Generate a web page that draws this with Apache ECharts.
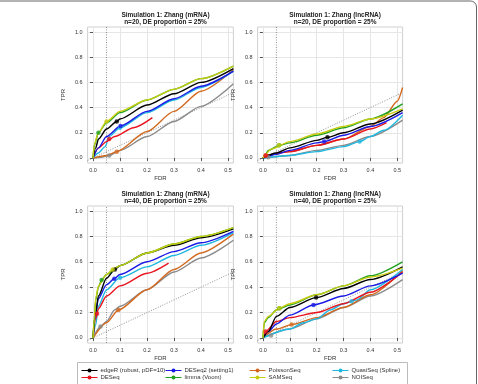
<!DOCTYPE html>
<html>
<head>
<meta charset="utf-8">
<script src="https://cdn.jsdelivr.net/npm/echarts@6/dist/echarts.min.js"></script>
<style>
  html, body { margin: 0; padding: 0; background: #fff; }
  #chart { width: 478px; height: 384px; }
</style>
</head>
<body>
<div id="chart"></div>
<script>
// methods, in legend order (row 1 then row 2)
const methods = ['edgeR', 'DESeq2', 'PoissonSeq', 'QuasiSeq', 'DESeq', 'limma', 'SAMSeq', 'NOISeq']
const methodLabels = ['edgeR (robust, pDF=10)', 'DESeq2 (setting1)', 'PoissonSeq', 'QuasiSeq (Spline)',
  'DESeq', 'limma (Voom)', 'SAMSeq', 'NOISeq']
const methodColors = ['#000000', '#1a1ae6', '#d2691e', '#20b8e0', '#e8141e', '#22a022', '#c8cc10', '#8a8a8a']
const drawOrder = ['NOISeq', 'PoissonSeq', 'QuasiSeq', 'DESeq', 'DESeq2', 'edgeR', 'limma', 'SAMSeq']

const panelTitles = [
  'Simulation 1: Zhang (mRNA)\nn=20, DE proportion = 25%',
  'Simulation 1: Zhang (lncRNA)\nn=20, DE proportion = 25%',
  'Simulation 1: Zhang (mRNA)\nn=40, DE proportion = 25%',
  'Simulation 1: Zhang (lncRNA)\nn=40, DE proportion = 25%'
]
const fdrTicks = [0, 0.1, 0.2, 0.3, 0.4, 0.5]
const tprTicks = [0, 0.2, 0.4, 0.6, 0.8, 1.0]
const fdrCut = 0.05

// curves: [FDR, TPR]
const mrna20 = {
  edgeR: [[0, 0], [0.01, 0.08], [0.02, 0.15], [0.05, 0.23], [0.088, 0.29], [0.1, 0.31], [0.2, 0.42], [0.3, 0.51], [0.4, 0.6], [0.52, 0.71]],
  DESeq2: [[0, 0], [0.02, 0.08], [0.05, 0.17], [0.102, 0.254], [0.2, 0.37], [0.3, 0.47], [0.4, 0.57], [0.52, 0.69]],
  PoissonSeq: [[0, 0], [0.05, 0.02], [0.088, 0.05], [0.2, 0.21], [0.3, 0.37], [0.4, 0.53], [0.52, 0.7]],
  QuasiSeq: [[0, 0], [0.02, 0.04], [0.045, 0.09], [0.06, 0.17], [0.1, 0.24], [0.2, 0.36], [0.3, 0.46], [0.4, 0.56], [0.52, 0.69]],
  DESeq: [[0, 0], [0.02, 0.08], [0.05, 0.13], [0.08, 0.17], [0.15, 0.24], [0.22, 0.32]],
  limma: [[0, 0], [0.005, 0.1], [0.02, 0.2], [0.05, 0.28], [0.1, 0.36], [0.2, 0.46], [0.3, 0.545], [0.4, 0.63], [0.52, 0.73]],
  SAMSeq: [[0, 0], [0.005, 0.11], [0.02, 0.2], [0.05, 0.29], [0.1, 0.37], [0.2, 0.46], [0.3, 0.545], [0.4, 0.63], [0.52, 0.73]],
  NOISeq: [[0, 0], [0.03, 0.005], [0.06, 0.02], [0.1, 0.06], [0.2, 0.17], [0.3, 0.29], [0.4, 0.41], [0.52, 0.59]]
}
const mrna20Marks = {
  edgeR: [0.088, 0.29], DESeq2: [0.102, 0.254], PoissonSeq: [0.088, 0.05], QuasiSeq: [0.1, 0.24],
  DESeq: [0.06, 0.15], limma: [0.02, 0.2], SAMSeq: [0.05, 0.29], NOISeq: [0.06, 0.02]
}

const lnc20 = {
  edgeR: [[0, 0], [0.05, 0.04], [0.1, 0.08], [0.2, 0.14], [0.24, 0.164], [0.3, 0.2], [0.4, 0.27], [0.52, 0.38]],
  DESeq2: [[0, 0], [0.05, 0.03], [0.1, 0.06], [0.2, 0.12], [0.228, 0.13], [0.3, 0.18], [0.4, 0.25], [0.52, 0.36]],
  PoissonSeq: [[0, 0], [0.01, 0.02], [0.1, 0.05], [0.2, 0.1], [0.3, 0.15], [0.4, 0.25], [0.45, 0.32], [0.5, 0.45], [0.52, 0.56]],
  QuasiSeq: [[0, 0], [0.1, 0.02], [0.2, 0.05], [0.3, 0.09], [0.36, 0.13], [0.4, 0.17], [0.45, 0.22], [0.52, 0.34]],
  DESeq: [[0, 0], [0.01, 0.02], [0.1, 0.05], [0.2, 0.1], [0.3, 0.15], [0.4, 0.23], [0.46, 0.28]],
  limma: [[0, 0], [0.01, 0.03], [0.02, 0.06], [0.06, 0.1], [0.1, 0.12], [0.2, 0.18], [0.3, 0.24], [0.4, 0.31], [0.52, 0.43]],
  SAMSeq: [[0, 0], [0.01, 0.03], [0.03, 0.07], [0.1, 0.13], [0.2, 0.19], [0.3, 0.25], [0.4, 0.31], [0.52, 0.39]],
  NOISeq: [[0, 0], [0.1, 0.02], [0.2, 0.06], [0.3, 0.1], [0.4, 0.17], [0.52, 0.3]]
}
const lnc20Marks = {
  edgeR: [0.24, 0.164], DESeq2: [0.228, 0.13], PoissonSeq: [0.01, 0.02], QuasiSeq: [0.36, 0.13],
  DESeq: [0.01, 0.02], limma: [0.06, 0.1], SAMSeq: [0.06, 0.1], NOISeq: [0.02, 0.005]
}

const mrna40 = {
  edgeR: [[0, 0], [0.01, 0.2], [0.02, 0.33], [0.05, 0.47], [0.081, 0.54], [0.1, 0.57], [0.2, 0.67], [0.3, 0.73], [0.4, 0.79], [0.52, 0.86]],
  DESeq2: [[0, 0], [0.01, 0.2], [0.02, 0.31], [0.05, 0.42], [0.079, 0.467], [0.1, 0.5], [0.2, 0.6], [0.3, 0.68], [0.4, 0.75], [0.52, 0.84]],
  PoissonSeq: [[0, 0], [0.05, 0.12], [0.094, 0.22], [0.2, 0.38], [0.3, 0.54], [0.4, 0.67], [0.52, 0.82]],
  QuasiSeq: [[0, 0], [0.01, 0.1], [0.02, 0.25], [0.05, 0.38], [0.1, 0.475], [0.2, 0.56], [0.3, 0.65], [0.4, 0.73], [0.52, 0.83]],
  DESeq: [[0, 0], [0.01, 0.15], [0.02, 0.23], [0.05, 0.33], [0.1, 0.41], [0.2, 0.51], [0.28, 0.59]],
  limma: [[0, 0], [0.005, 0.15], [0.01, 0.3], [0.02, 0.4], [0.032, 0.457], [0.05, 0.5], [0.1, 0.57], [0.2, 0.67], [0.3, 0.74], [0.4, 0.8], [0.52, 0.87]],
  SAMSeq: [[0, 0], [0.005, 0.16], [0.01, 0.31], [0.02, 0.41], [0.05, 0.5], [0.073, 0.54], [0.1, 0.57], [0.2, 0.67], [0.3, 0.74], [0.4, 0.8], [0.52, 0.87]],
  NOISeq: [[0, 0], [0.028, 0.09], [0.05, 0.13], [0.08, 0.22], [0.1, 0.25], [0.2, 0.38], [0.3, 0.52], [0.4, 0.63], [0.52, 0.77]]
}
const mrna40Marks = {
  edgeR: [0.081, 0.54], DESeq2: [0.079, 0.467], PoissonSeq: [0.094, 0.22], QuasiSeq: [0.1, 0.475],
  DESeq: [0.015, 0.19], limma: [0.032, 0.457], SAMSeq: [0.073, 0.54], NOISeq: [0.028, 0.09]
}

const lnc40 = {
  edgeR: [[0, 0], [0.02, 0.05], [0.05, 0.17], [0.1, 0.24], [0.198, 0.318], [0.3, 0.39], [0.4, 0.46], [0.52, 0.56]],
  DESeq2: [[0, 0], [0.02, 0.05], [0.05, 0.11], [0.1, 0.18], [0.188, 0.26], [0.3, 0.33], [0.4, 0.41], [0.52, 0.51]],
  PoissonSeq: [[0, 0], [0.05, 0.07], [0.107, 0.105], [0.2, 0.16], [0.3, 0.24], [0.4, 0.34], [0.52, 0.53]],
  QuasiSeq: [[0, 0], [0.1, 0.07], [0.15, 0.12], [0.2, 0.15], [0.25, 0.22], [0.3, 0.27], [0.35, 0.3], [0.4, 0.38], [0.52, 0.54]],
  DESeq: [[0, 0], [0.01, 0.05], [0.05, 0.13], [0.1, 0.16], [0.2, 0.2], [0.3, 0.27], [0.4, 0.36], [0.52, 0.52]],
  limma: [[0, 0], [0.005, 0.12], [0.02, 0.16], [0.05, 0.22], [0.1, 0.26], [0.2, 0.34], [0.3, 0.41], [0.4, 0.49], [0.52, 0.6]],
  SAMSeq: [[0, 0], [0.005, 0.13], [0.02, 0.17], [0.061, 0.234], [0.1, 0.27], [0.2, 0.34], [0.3, 0.41], [0.4, 0.48], [0.52, 0.55]],
  NOISeq: [[0, 0], [0.1, 0.07], [0.2, 0.15], [0.3, 0.24], [0.4, 0.33], [0.52, 0.46]]
}
const lnc40Marks = {
  edgeR: [0.198, 0.318], DESeq2: [0.188, 0.26], PoissonSeq: [0.107, 0.105], QuasiSeq: [0.33, 0.29],
  DESeq: [0.01, 0.05], limma: [0.061, 0.234], SAMSeq: [0.061, 0.234], NOISeq: [0.03, 0.02]
}

const panels = [
  { curves: mrna20, marks: mrna20Marks },
  { curves: lnc20, marks: lnc20Marks },
  { curves: mrna40, marks: mrna40Marks },
  { curves: lnc40, marks: lnc40Marks }
]

const font = 'Liberation Sans, Arial, sans-serif'
const grids = [
  { left: 87.6, top: 27, width: 145.8, height: 136 },
  { left: 257.6, top: 27, width: 145, height: 136 },
  { left: 87.6, top: 206, width: 145.8, height: 137 },
  { left: 257.6, top: 206, width: 145, height: 137 }
]

const option = {
  animation: false,
  backgroundColor: '#fff',
  textStyle: { fontFamily: font },
  title: [],
  legend: [],
  grid: [],
  xAxis: [],
  yAxis: [],
  series: [],
  graphic: [{
    type: 'rect',
    shape: { x: -20, y: 1, width: 496.5, height: 420, r: 6 },
    style: { fill: 'none', stroke: '#666', lineWidth: 1 },
    silent: true
  }, {
    type: 'rect',
    shape: { x: 77.5, y: 362.5, width: 330, height: 24 },
    style: { fill: 'none', stroke: '#bbb', lineWidth: 1 },
    silent: true
  }]
}

grids.forEach((g, i) => {
  option.grid.push({ ...g, show: true, borderColor: '#cfcfcf', borderWidth: 1, backgroundColor: '#fff' })
  option.title.push({
    text: panelTitles[i],
    left: g.left + g.width / 2,
    top: g.top - 21,
    textAlign: 'center',
    textStyle: { fontSize: 6.5, fontWeight: 'bold', color: '#222', lineHeight: 7.5, fontFamily: font }
  })
  option.xAxis.push({
    type: 'value', gridIndex: i, min: -0.02, max: 0.52, offset: 2,
    name: 'FDR', nameLocation: 'middle', nameGap: 10,
    nameTextStyle: { fontSize: 6, color: '#333' },
    axisLine: { show: false },
    axisTick: { show: true, length: 3, customValues: fdrTicks, lineStyle: { color: '#555' } },
    axisLabel: { customValues: fdrTicks, fontSize: 5.5, color: '#333', margin: 2, formatter: v => v.toFixed(1) },
    splitLine: { show: true, lineStyle: { color: '#e6e6e6', width: 1 } }
  })
  option.yAxis.push({
    type: 'value', gridIndex: i, min: -0.04, max: 1.04, offset: 3,
    name: 'TPR', nameLocation: 'middle', nameGap: 18,
    nameTextStyle: { fontSize: 6, color: '#333' },
    axisLine: { show: false },
    axisTick: { show: true, length: 3, customValues: tprTicks, lineStyle: { color: '#555' } },
    axisLabel: { customValues: tprTicks, fontSize: 5.5, color: '#333', margin: 2, formatter: v => v.toFixed(1) },
    splitLine: { show: true, lineStyle: { color: '#e6e6e6', width: 1 } }
  })

  // reference lines: nominal FDR cut-off and the diagonal
  option.series.push({
    type: 'line', xAxisIndex: i, yAxisIndex: i, silent: true, symbol: 'none',
    data: [[fdrCut, -0.04], [fdrCut, 1.04]],
    lineStyle: { color: '#777', width: 0.8, type: [1, 1.5] }
  }, {
    type: 'line', xAxisIndex: i, yAxisIndex: i, silent: true, symbol: 'none',
    data: [[-0.02, -0.02], [0.52, 0.52]],
    lineStyle: { color: '#777', width: 0.8, type: [1, 1.5] }
  })

  drawOrder.forEach(m => {
    const k = methods.indexOf(m)
    option.series.push({
      name: methodLabels[k], type: 'line', xAxisIndex: i, yAxisIndex: i,
      data: panels[i].curves[m], smooth: 0.25, smoothMonotone: 'x',
      symbol: 'circle', symbolSize: 4, showSymbol: false,
      color: methodColors[k],
      lineStyle: { width: 1.4, color: methodColors[k] }
    })
  })
  drawOrder.forEach(m => {
    const k = methods.indexOf(m)
    option.series.push({
      name: methodLabels[k], type: 'scatter', xAxisIndex: i, yAxisIndex: i,
      data: [panels[i].marks[m]], symbol: 'circle', symbolSize: 4.5,
      itemStyle: { color: methodColors[k] }, z: 3
    })
  })
})

// legend: four columns of two entries
const legendX = [81, 165, 249, 332]
legendX.forEach((x, c) => {
  option.legend.push({
    orient: 'vertical', left: x, top: 367.5, padding: 0,
    width: 80, height: 16,
    itemWidth: 16, itemHeight: 5, itemGap: 1,
    data: [methodLabels[c], methodLabels[c + 4]],
    lineStyle: { width: 1 },
    textStyle: { fontSize: 6, lineHeight: 6, color: '#333', padding: [0, 0, 0, -2] },
    selectedMode: false
  })
})

const chart = echarts.init(document.getElementById('chart'))
chart.setOption(option)
</script>
</body>
</html>
